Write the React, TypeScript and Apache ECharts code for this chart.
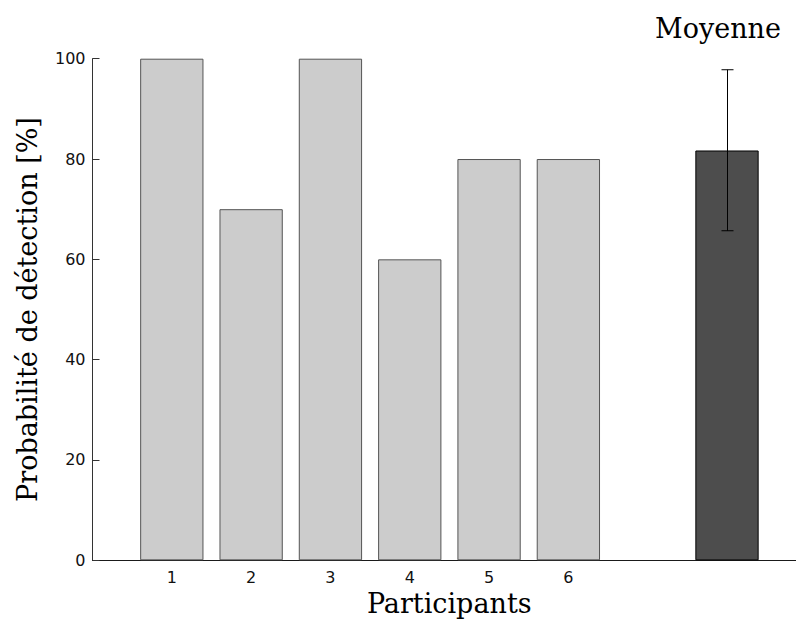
import React, { useEffect, useRef } from "react";
import * as echarts from "echarts";

const participants = [1, 2, 3, 4, 5, 6];
const detection = [100, 70, 100, 60, 80, 80];
const meanPosition = 8;
const meanValue = 81.7;
const errorLow = 65.7;
const errorHigh = 97.8;
const yTicks = [0, 20, 40, 60, 80, 100];
const xLabel = "Participants";
const yLabel = "Probabilité de détection [%]";
const meanLabel = "Moyenne";

export default function App() {
  const ref = useRef<HTMLDivElement>(null);
  useEffect(() => {
    if (!ref.current) return;
    const chart = echarts.init(ref.current, null, { renderer: "svg" });
    const barData: any[] = participants.map((p, i) => ({
      value: [p, detection[i]],
      itemStyle: { color: "#cccccc", borderColor: "#555555", borderWidth: 1 },
    }));
    barData.push({
      value: [meanPosition, meanValue],
      itemStyle: { color: "#4d4d4d", borderColor: "#000000", borderWidth: 1 },
    });
    chart.setOption({
      animation: false,
      backgroundColor: "#ffffff",
      grid: {
        left: 92.5,
        top: 58.7,
        bottom: 58.7,
        right: 0,
        containLabel: false,
        outerBoundsMode: "none",
      },
      xAxis: {
        type: "value",
        min: 0,
        max: 8.87,
        interval: 1,
        splitLine: { show: false },
        axisLine: { show: true, onZero: false, lineStyle: { color: "#1a1a1a", width: 1 } },
        axisTick: { show: false },
        axisLabel: {
          margin: 9,
          color: "#111",
          fontFamily: "DejaVu Sans",
          fontSize: 16,
          showMaxLabel: false,
          formatter: (v: number) => (participants.includes(v) ? String(v) : ""),
        },
        name: xLabel,
        nameLocation: "middle",
        nameGap: 30,
        nameTextStyle: {
          fontFamily: "DejaVu Serif",
          fontSize: 27,
          color: "#000",
          padding: [0, 0, 0, 10],
        },
      },
      yAxis: {
        type: "value",
        min: yTicks[0],
        max: yTicks[yTicks.length - 1],
        interval: 20,
        splitLine: { show: false },
        axisLine: { show: true, lineStyle: { color: "#333333", width: 1 } },
        axisTick: { show: true, inside: true, length: 7, lineStyle: { color: "#333333" } },
        axisLabel: {
          margin: 7,
          color: "#111",
          fontFamily: "DejaVu Sans",
          fontSize: 16,
        },
        name: yLabel,
        nameLocation: "middle",
        nameGap: 52,
        nameRotate: 90,
        nameTextStyle: { fontFamily: "DejaVu Serif", fontSize: 27, color: "#000" },
      },
      series: [
        {
          type: "bar",
          barWidth: 63.3,
          data: barData,
        },
        {
          type: "custom",
          data: [[meanPosition, errorLow, errorHigh]],
          renderItem: (params: any, api: any) => {
            const x = api.value(0);
            const lo = api.coord([x, api.value(1)]);
            const hi = api.coord([x, api.value(2)]);
            const cx = Math.round(lo[0]) + 0.5;
            const style = { stroke: "#000", lineWidth: 1 };
            return {
              type: "group",
              children: [
                { type: "line", shape: { x1: cx, y1: hi[1], x2: cx, y2: lo[1] }, style },
                { type: "line", shape: { x1: cx - 6, y1: hi[1], x2: cx + 6, y2: hi[1] }, style },
                { type: "line", shape: { x1: cx - 6, y1: lo[1], x2: cx + 6, y2: lo[1] }, style },
              ],
            };
          },
          z: 5,
        },
      ],
      graphic: [
        {
          type: "text",
          left: 655,
          top: 15,
          style: { text: meanLabel, fontFamily: "DejaVu Serif", fontSize: 27, fill: "#000" },
        },
      ],
    });
    return () => chart.dispose();
  }, []);
  return (
    <div
      ref={ref}
      style={{ position: "fixed", left: 0, top: 0, width: 796, height: 619 }}
    />
  );
}
